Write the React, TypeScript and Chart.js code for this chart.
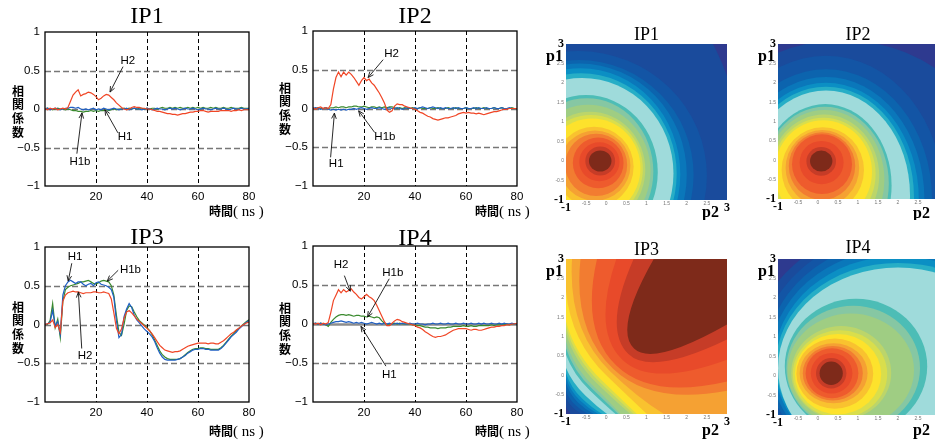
import { useEffect, useRef } from "react";
import { Chart, registerables } from "chart.js";

Chart.register(...registerables);
Chart.defaults.font.family = '"Liberation Sans", Arial, sans-serif';

// ---------- line-chart data (time in ns, correlation coefficient) ----------
const TIME_NS = [
  0, 1, 2, 3, 4, 5, 6, 7, 8, 9, 10, 11, 12, 13, 14, 15, 16, 17, 18, 19, 20, 21, 22, 23, 24, 25, 26, 27, 28, 29, 30, 31, 32, 33, 34, 35, 36, 37, 38, 39, 40,
  41, 42, 43, 44, 45, 46, 47, 48, 49, 50, 51, 52, 53, 54, 55, 56, 57, 58, 59, 60, 61, 62, 63, 64, 65, 66, 67, 68, 69, 70, 71, 72, 73, 74, 75, 76, 77, 78, 79, 80,
];
const X_TICKS = [20, 40, 60, 80];
const Y_TICKS = [1, 0.5, 0, -0.5, -1];

const IP1_H2 = [
  0.01, -0.01, 0.01, 0.0, 0.01, -0.01, 0.0, 0.01, 0.0, 0.02,
  0.1, 0.18, 0.22, 0.25, 0.17, 0.19, 0.2, 0.22, 0.21, 0.19,
  0.16, 0.12, 0.14, 0.17, 0.19, 0.18, 0.15, 0.12, 0.08, 0.05,
  0.02, 0.0, -0.01, 0.0, 0.02, 0.03, 0.02, 0.02, 0.01, 0.01,
  0.0, 0.0, -0.01, -0.02, -0.03, -0.03, -0.04, -0.05, -0.06, -0.06,
  -0.07, -0.07, -0.08, -0.07, -0.06, -0.06, -0.05, -0.04, -0.04, -0.03,
  -0.03, -0.02, -0.02, -0.03, -0.04, -0.03, -0.03, -0.03, -0.03, -0.02,
  -0.02, -0.02, -0.02, -0.03, -0.02, -0.02, -0.01, -0.02, -0.01, -0.01,
  -0.01,
];
const IP1_H1 = [
  0.0, 0.01, -0.01, 0.0, 0.01, 0.0, -0.01, 0.0, 0.01, 0.01,
  0.02, 0.02, 0.01, 0.02, 0.0, -0.01, 0.0, -0.01, 0.0, 0.01,
  -0.01, 0.0, -0.01, 0.01, 0.0, -0.01, 0.0, 0.01, 0.0, -0.01,
  0.0, 0.0, 0.01, -0.01, 0.0, 0.01, 0.0, 0.0, -0.01, 0.0,
  0.01, 0.0, -0.01, 0.0, 0.01, 0.0, 0.0, -0.01, 0.0, 0.01,
  0.0, 0.01, 0.0, -0.01, 0.0, 0.01, 0.0, 0.0, 0.01, 0.0,
  -0.01, 0.0, 0.01, 0.0, 0.0, -0.01, 0.0, 0.01, 0.0, 0.0,
  0.01, 0.0, -0.01, 0.0, 0.01, 0.0, 0.0, 0.01, 0.0, 0.0,
  0.01,
];
const IP1_H1B = [
  0.0, 0.01, 0.0, -0.01, 0.0, 0.01, 0.0, 0.0, -0.01, 0.0,
  -0.01, -0.02, -0.02, -0.03, -0.03, -0.04, -0.03, -0.03, -0.02, -0.03,
  -0.02, -0.03, -0.02, -0.02, -0.01, -0.02, -0.01, 0.0, -0.01, 0.0,
  0.0, 0.01, 0.0, 0.01, 0.0, 0.01, 0.0, 0.01, 0.01, 0.0,
  0.01, 0.0, 0.01, 0.01, 0.0, 0.01, 0.02, 0.01, 0.01, 0.02,
  0.01, 0.02, 0.01, 0.02, 0.01, 0.01, 0.02, 0.01, 0.02, 0.01,
  0.02, 0.01, 0.02, 0.01, 0.01, 0.02, 0.01, 0.02, 0.01, 0.01,
  0.02, 0.01, 0.01, 0.02, 0.01, 0.01, 0.01, 0.02, 0.01, 0.01,
  0.01,
];

const IP2_H2 = [
  0.01, -0.01, 0.01, 0.02, 0.0, 0.01, 0.0, 0.05, 0.25, 0.4,
  0.47, 0.41, 0.47, 0.43, 0.47, 0.44, 0.4, 0.35, 0.3, 0.36,
  0.4, 0.36, 0.38, 0.33, 0.3, 0.25, 0.2, 0.14, 0.07, -0.02,
  -0.05, -0.03, 0.03, 0.06, 0.05, 0.05, 0.03, 0.02, 0.01, 0.0,
  -0.01, -0.03, -0.05, -0.06, -0.08, -0.1, -0.11, -0.13, -0.14, -0.15,
  -0.14, -0.13, -0.12, -0.12, -0.11, -0.1, -0.09, -0.07, -0.06, -0.05,
  -0.06, -0.05, -0.06, -0.06, -0.07, -0.06, -0.07, -0.08, -0.07, -0.06,
  -0.05, -0.04, -0.04, -0.03, -0.02, -0.01, -0.01, 0.0, 0.0, 0.0,
  0.0,
];
const IP2_H1 = [
  0.0, 0.01, 0.0, -0.01, 0.0, 0.01, -0.01, -0.02, -0.01, -0.02,
  -0.01, -0.02, -0.01, -0.02, -0.01, -0.01, 0.0, -0.01, 0.0, 0.01,
  0.0, -0.01, 0.0, 0.01, 0.0, 0.0, 0.01, 0.0, -0.01, 0.0,
  0.01, 0.0, 0.0, 0.01, 0.0, -0.01, 0.0, 0.01, 0.0, 0.0,
  0.01, 0.0, 0.01, 0.02, 0.01, 0.0, 0.01, 0.02, 0.01, 0.0,
  0.01, 0.0, 0.01, 0.0, 0.0, 0.01, 0.0, 0.01, 0.0, 0.0,
  0.01, 0.0, 0.0, 0.01, 0.0, 0.01, 0.0, 0.0, 0.01, 0.0,
  0.0, 0.01, 0.0, 0.0, 0.01, 0.0, 0.0, 0.01, 0.0, 0.0,
  0.0,
];
const IP2_H1B = [
  0.0, 0.0, 0.01, 0.0, 0.0, 0.01, 0.0, 0.01, 0.01, 0.02,
  0.01, 0.02, 0.02, 0.01, 0.02, 0.02, 0.03, 0.03, 0.02, 0.02,
  0.03, 0.02, 0.01, 0.02, 0.02, 0.01, 0.02, 0.01, 0.02, 0.01,
  0.02, 0.02, 0.01, 0.0, 0.01, 0.0, 0.01, 0.0, 0.0, 0.01,
  0.0, 0.0, 0.01, 0.0, 0.0, 0.0, 0.01, 0.0, 0.0, 0.01,
  0.0, 0.0, 0.0, 0.01, 0.0, 0.0, 0.01, 0.0, 0.0, 0.0,
  0.01, 0.0, 0.0, 0.0, 0.01, 0.0, 0.0, 0.01, 0.0, 0.0,
  0.0, 0.01, 0.0, 0.0, 0.01, 0.0, 0.0, 0.0, 0.01, 0.0,
  0.0,
];

const IP3_H1 = [
  0.0, 0.01, 0.03, 0.18, -0.02, 0.04, -0.13, 0.38, 0.5, 0.55,
  0.57, 0.55, 0.53, 0.55, 0.55, 0.52, 0.5, 0.52, 0.53, 0.5,
  0.54, 0.55, 0.52, 0.51, 0.5, 0.48, 0.45, 0.35, 0.05, -0.17,
  -0.13, 0.1, 0.2, 0.27, 0.22, 0.12, 0.06, 0.02, -0.02, -0.06,
  -0.09, -0.12, -0.16, -0.22, -0.3, -0.37, -0.42, -0.45, -0.46, -0.46,
  -0.46, -0.46, -0.45, -0.44, -0.42, -0.4, -0.37, -0.35, -0.33, -0.32,
  -0.32, -0.31, -0.31, -0.32, -0.32, -0.33, -0.33, -0.33, -0.33, -0.31,
  -0.28, -0.24, -0.2, -0.16, -0.13, -0.1, -0.06, -0.03, 0.0, 0.03,
  0.05,
];
const IP3_H1B = [
  0.0, 0.0, 0.05, 0.27, -0.04, 0.07, -0.17, 0.3, 0.45, 0.48,
  0.5, 0.51, 0.52, 0.53, 0.55, 0.55, 0.56, 0.57, 0.55, 0.53,
  0.52, 0.54, 0.56, 0.57, 0.56, 0.55, 0.5, 0.38, 0.12, -0.1,
  -0.14, 0.0, 0.18, 0.24, 0.23, 0.16, 0.1, 0.05, 0.02, -0.01,
  -0.04, -0.08, -0.13, -0.2, -0.27, -0.34, -0.39, -0.42, -0.44, -0.45,
  -0.45, -0.45, -0.45, -0.44, -0.42, -0.39, -0.36, -0.34, -0.32, -0.31,
  -0.31, -0.3, -0.3, -0.31, -0.31, -0.32, -0.32, -0.32, -0.32, -0.3,
  -0.27, -0.23, -0.19, -0.15, -0.12, -0.08, -0.05, -0.02, 0.01, 0.04,
  0.06,
];
const IP3_H2 = [
  0.0, 0.01, 0.02, 0.06, -0.04, 0.0, -0.1, 0.3, 0.38, 0.41,
  0.42, 0.43, 0.42, 0.42, 0.41, 0.4, 0.41, 0.41, 0.41, 0.42,
  0.42, 0.41, 0.41, 0.42, 0.41, 0.4, 0.33, 0.15, -0.05, -0.12,
  -0.06, 0.08, 0.16, 0.18, 0.15, 0.11, 0.07, 0.04, 0.01, -0.02,
  -0.05, -0.08, -0.12, -0.17, -0.22, -0.27, -0.3, -0.33, -0.34, -0.35,
  -0.36, -0.35, -0.35, -0.34, -0.32, -0.3, -0.28, -0.27, -0.26, -0.25,
  -0.24, -0.24, -0.24, -0.24, -0.25, -0.24, -0.24, -0.25, -0.25, -0.23,
  -0.21, -0.18, -0.15, -0.12, -0.1, -0.07, -0.05, -0.02, 0.0, 0.02,
  0.03,
];

const IP4_H2 = [
  0.01, 0.0, 0.01, -0.01, 0.01, 0.0, 0.02, 0.15, 0.3, 0.37,
  0.44, 0.4, 0.44, 0.41, 0.43, 0.45, 0.41, 0.38, 0.34, 0.32,
  0.35, 0.38, 0.35, 0.33, 0.3, 0.24, 0.17, 0.1, 0.03, -0.02,
  -0.02, 0.01, 0.04, 0.06, 0.05, 0.03, 0.02, 0.01, 0.0, -0.01,
  -0.02, -0.04, -0.05, -0.07, -0.1, -0.12, -0.14, -0.16, -0.17, -0.16,
  -0.16, -0.15, -0.14, -0.12, -0.1, -0.08, -0.07, -0.06, -0.06, -0.06,
  -0.06, -0.07, -0.08, -0.07, -0.07, -0.08, -0.08, -0.07, -0.06, -0.05,
  -0.04, -0.04, -0.03, -0.03, -0.02, -0.02, -0.01, -0.01, 0.0, 0.0,
  0.01,
];
const IP4_H1 = [
  0.0, 0.01, 0.0, 0.01, 0.0, -0.01, 0.0, 0.01, 0.02, 0.03,
  0.03, 0.04, 0.03, 0.02, 0.03, 0.02, 0.01, 0.02, 0.01, 0.02,
  0.01, 0.0, 0.01, 0.02, 0.01, 0.0, 0.01, 0.0, 0.01, 0.0,
  0.01, 0.0, 0.0, 0.01, 0.0, 0.01, 0.0, 0.0, 0.01, 0.0,
  0.0, 0.01, 0.0, 0.0, -0.01, 0.0, 0.0, 0.01, 0.0, 0.0,
  0.01, 0.0, 0.0, 0.01, 0.0, 0.0, 0.01, 0.0, 0.0, 0.01,
  0.0, 0.0, 0.01, 0.0, 0.0, 0.01, 0.0, 0.01, 0.0, 0.0,
  0.01, 0.0, 0.0, 0.01, 0.0, 0.01, 0.0, 0.0, 0.01, 0.0,
  0.0,
];
const IP4_H1B = [
  0.0, 0.01, 0.0, 0.01, 0.0, -0.01, -0.03, 0.02, 0.06, 0.09,
  0.11, 0.12, 0.12, 0.11, 0.12, 0.11, 0.1, 0.11, 0.11, 0.1,
  0.1, 0.09, 0.1, 0.09, 0.08, 0.09, 0.08, 0.04, 0.01, -0.01,
  -0.01, 0.0, 0.01, 0.0, 0.01, 0.0, 0.0, 0.0, 0.0, -0.01,
  -0.01, -0.02, -0.02, -0.03, -0.04, -0.04, -0.05, -0.05, -0.05, -0.06,
  -0.05, -0.05, -0.05, -0.04, -0.04, -0.03, -0.03, -0.03, -0.03, -0.02,
  -0.03, -0.03, -0.02, -0.03, -0.03, -0.02, -0.02, -0.02, -0.02, -0.02,
  -0.01, -0.02, -0.01, -0.01, -0.01, -0.01, 0.0, -0.01, 0.0, 0.0,
  0.0,
];

const SERIES_NAMES = ["H2", "H1", "H1b"];
const SERIES_COLORS = ["#f04626", "#1f5fc4", "#3a8a2e"];

type Arrow = { label: string; tx: number; ty: number; x1: number; y1: number; x2: number; y2: number };

const IP1_ARROWS: Arrow[] = [
  { label: "H2", tx: 32.5, ty: 0.62, x1: 30.6, y1: 0.55, x2: 25.5, y2: 0.22 },
  { label: "H1", tx: 31.4, ty: -0.36, x1: 28.6, y1: -0.31, x2: 23.5, y2: -0.01 },
  { label: "H1b", tx: 13.7, ty: -0.68, x1: 12.5, y1: -0.58, x2: 14.5, y2: -0.05 },
];
const IP2_ARROWS: Arrow[] = [
  { label: "H2", tx: 30.8, ty: 0.7, x1: 27.5, y1: 0.63, x2: 21.6, y2: 0.4 },
  { label: "H1b", tx: 28.2, ty: -0.37, x1: 24.2, y1: -0.31, x2: 17.9, y2: -0.03 },
  { label: "H1", tx: 9.1, ty: -0.71, x1: 6.9, y1: -0.63, x2: 8.4, y2: -0.06 },
];
const IP3_ARROWS: Arrow[] = [
  { label: "H1", tx: 11.8, ty: 0.87, x1: 10.5, y1: 0.79, x2: 9.1, y2: 0.56 },
  { label: "H1b", tx: 33.5, ty: 0.71, x1: 28.7, y1: 0.7, x2: 24.4, y2: 0.56 },
  { label: "H2", tx: 15.7, ty: -0.4, x1: 14.4, y1: -0.31, x2: 13.1, y2: 0.42 },
];
const IP4_ARROWS: Arrow[] = [
  { label: "H2", tx: 11.0, ty: 0.76, x1: 12.3, y1: 0.62, x2: 14.6, y2: 0.42 },
  { label: "H1b", tx: 31.3, ty: 0.66, x1: 29.9, y1: 0.58, x2: 21.4, y2: 0.09 },
  { label: "H1", tx: 29.9, ty: -0.65, x1: 28.6, y1: -0.54, x2: 18.8, y2: -0.03 },
];

// ---------- contour-map data (p1 vs p2) ----------
const P_TICKS = [-1, -0.5, 0, 0.5, 1, 1.5, 2, 2.5, 3];
const LEVEL_COLORS = [
  "#2e3a8f", "#1a4b9c", "#1355a5", "#0c64ae", "#0a77ba", "#0b8fc4", "#27aec6", "#9fdbdb",
  "#4dbdb6", "#86c7a3", "#9fcd83", "#bcd56a", "#d9de4c", "#fde22c", "#f9c22f", "#f5a133",
  "#f27c31", "#ee5b2d", "#e84a2a", "#c63c27", "#7e2a1a",
];

// contour ellipses, level 1 (outermost) .. level 20 (innermost)
const IP1_MAP_CX = [-0.15, -0.7, -0.68, -0.66, -0.64, -0.62, -0.6, -0.5, -0.48, -0.45, -0.4, -0.38, -0.35, -0.3, -0.28, -0.25, -0.2, -0.17, -0.15, -0.15];
const IP1_MAP_CY = [0, -0.38, -0.36, -0.35, -0.34, -0.33, -0.32, -0.28, -0.27, -0.25, -0.22, -0.2, -0.18, -0.15, -0.12, -0.1, -0.05, -0.02, 0, 0];
const IP1_MAP_RX = [3.5, 3.2, 2.85, 2.66, 2.48, 2.37, 2.27, 1.78, 1.65, 1.55, 1.37, 1.29, 1.2, 0.98, 0.88, 0.77, 0.63, 0.5, 0.37, 0.28];
const IP1_MAP_RY = [5.0, 3.2, 2.95, 2.85, 2.72, 2.58, 2.45, 1.97, 1.88, 1.69, 1.48, 1.38, 1.27, 1.03, 0.9, 0.8, 0.65, 0.5, 0.37, 0.27];

const IP2_MAP_CX = [0.6, 0.2, 0.2, 0.2, 0.2, 0.2, 0.2, 0.18, 0.17, 0.16, 0.15, 0.14, 0.13, 0.12, 0.11, 0.1, 0.1, 0.09, 0.08, 0.08];
const IP2_MAP_CY = [-1.2, -1.0, -1.0, -1.0, -1.0, -0.95, -0.9, -0.65, -0.6, -0.5, -0.4, -0.35, -0.3, -0.25, -0.2, -0.15, -0.1, -0.06, -0.03, -0.02];
const IP2_MAP_RX = [4.2, 2.95, 2.65, 2.46, 2.32, 2.2, 2.1, 1.66, 1.6, 1.5, 1.38, 1.3, 1.22, 1.03, 0.92, 0.83, 0.75, 0.55, 0.37, 0.28];
const IP2_MAP_RY = [4.3, 3.7, 3.35, 3.15, 3.0, 2.85, 2.7, 2.1, 1.98, 1.8, 1.58, 1.45, 1.33, 1.1, 0.98, 0.87, 0.77, 0.56, 0.37, 0.27];

const IP4_MAP_CX = [2.0, 2.0, 2.0, 2.0, 2.0, 2.0, 2.0, 0.95, 0.88, 0.82, 0.58, 0.55, 0.5, 0.42, 0.39, 0.37, 0.35, 0.34, 0.33, 0.33];
const IP4_MAP_CY = [0.5, 0.5, 0.45, 0.4, 0.35, 0.3, 0.2, 0.25, 0.2, 0.15, 0.08, 0.05, 0.05, 0.06, 0.07, 0.07, 0.07, 0.07, 0.07, 0.07];
const IP4_MAP_RX = [3.68, 3.45, 3.3, 3.2, 3.1, 3.05, 3.0, 1.78, 1.67, 1.58, 1.25, 1.18, 1.08, 0.96, 0.85, 0.75, 0.66, 0.52, 0.38, 0.29];
const IP4_MAP_RY = [3.32, 3.15, 3.0, 2.85, 2.72, 2.6, 2.58, 1.73, 1.6, 1.45, 1.2, 1.12, 1.03, 0.9, 0.77, 0.7, 0.64, 0.52, 0.39, 0.3];

// IP3 contour boundaries, level 1..20: where each crosses the left/top edge, the diagonal p1 = p2 (tip), and the bottom/right edge
const IP3_START_X = [-1, -1, -1, -1, -1, -1, -1, -1, -1, -1, -1, -1, -1, -1, -0.85, -0.64, -0.23, 0.25, 0.68, 1.18];
const IP3_START_Y = [-0.8, -0.59, -0.4, -0.2, -0.05, 0.06, 0.19, 0.53, 0.7, 0.88, 1.1, 1.25, 1.39, 2.17, 3, 3, 3, 3, 3, 3];
const IP3_TIP = [-0.93, -0.83, -0.77, -0.7, -0.65, -0.6, -0.52, -0.4, -0.35, -0.3, -0.22, -0.17, -0.12, 0.0, 0.1, 0.17, 0.25, 0.4, 0.55, 0.69];
const IP3_END_X = [-0.89, -0.6, -0.45, -0.31, -0.2, -0.1, 0.02, 0.23, 0.3, 0.35, 0.6, 0.68, 0.76, 1.01, 1.43, 3, 3, 3, 3, 3];
const IP3_END_Y = [-1, -1, -1, -1, -1, -1, -1, -1, -1, -1, -1, -1, -1, -1, -1, -0.4, -0.16, 0.4, 0.92, 1.31];

// ---------- helpers ----------
type LineSpec = {
  title: string;
  series: number[][];
  arrows: Arrow[];
  left: number; top: number; width: number; height: number;
  area: [number, number, number, number];
  titleY: number; yTitleX: number; yTitleY: number; xTitleX: number; xTitleY: number;
  solidZero?: boolean;
};

const fmtY = (v: number) => (v < 0 ? "\u2212" + Math.abs(v) : String(v));

function linePlugin(spec: LineSpec) {
  return {
    id: "decor",
    beforeDatasetsDraw(chart: any) {
      const { ctx, chartArea: a, scales } = chart;
      const x = scales.x, y = scales.y;
      ctx.save();
      for (const v of Y_TICKS) {
        if (v === 1 || v === -1) continue;
        const py = Math.round(y.getPixelForValue(v)) + 0.5;
        ctx.beginPath();
        if (v === 0 && spec.solidZero) {
          ctx.setLineDash([]);
          ctx.strokeStyle = "#8c8c8c";
          ctx.lineWidth = 2.4;
        } else {
          ctx.setLineDash([6, 3]);
          ctx.strokeStyle = "#777";
          ctx.lineWidth = 1.5;
        }
        ctx.moveTo(a.left, py);
        ctx.lineTo(a.right, py);
        ctx.stroke();
      }
      ctx.setLineDash([4, 3]);
      ctx.strokeStyle = "#000";
      ctx.lineWidth = 1;
      for (const v of X_TICKS) {
        if (v === 80) continue;
        const px = Math.round(x.getPixelForValue(v)) + 0.5;
        ctx.beginPath();
        ctx.moveTo(px, a.top);
        ctx.lineTo(px, a.bottom);
        ctx.stroke();
      }
      ctx.restore();
    },
    afterDatasetsDraw(chart: any) {
      const { ctx, chartArea: a, scales } = chart;
      const x = scales.x, y = scales.y;
      ctx.save();
      ctx.setLineDash([]);
      ctx.strokeStyle = "#000";
      ctx.lineWidth = 1.3;
      ctx.strokeRect(a.left, a.top, a.right - a.left, a.bottom - a.top);
      ctx.lineWidth = 0.9;
      ctx.strokeStyle = "#111";
      ctx.fillStyle = "#000";
      ctx.font = '11.5px "Liberation Sans", Arial, sans-serif';
      ctx.textAlign = "center";
      ctx.textBaseline = "middle";
      for (const ar of spec.arrows) {
        const X1 = x.getPixelForValue(ar.x1), Y1 = y.getPixelForValue(ar.y1);
        const X2 = x.getPixelForValue(ar.x2), Y2 = y.getPixelForValue(ar.y2);
        ctx.beginPath();
        ctx.moveTo(X1, Y1);
        ctx.lineTo(X2, Y2);
        const ang = Math.atan2(Y2 - Y1, X2 - X1);
        const hl = 6;
        ctx.moveTo(X2 - hl * Math.cos(ang - 0.4), Y2 - hl * Math.sin(ang - 0.4));
        ctx.lineTo(X2, Y2);
        ctx.lineTo(X2 - hl * Math.cos(ang + 0.4), Y2 - hl * Math.sin(ang + 0.4));
        ctx.stroke();
        ctx.fillText(ar.label, x.getPixelForValue(ar.tx), y.getPixelForValue(ar.ty));
      }
      ctx.restore();
    },
    afterDraw(chart: any) {
      const { ctx, chartArea: a } = chart;
      ctx.save();
      ctx.fillStyle = "#000";
      ctx.font = '24px "Liberation Serif", serif';
      ctx.textAlign = "center";
      ctx.textBaseline = "alphabetic";
      ctx.fillText(spec.title, (a.left + a.right) / 2, spec.titleY);
      ctx.font = 'bold 12px "Noto Sans CJK JP", sans-serif';
      ctx.textBaseline = "middle";
      const chars = ["相", "関", "係", "数"];
      chars.forEach((c, i) => ctx.fillText(c, spec.yTitleX, spec.yTitleY + i * 13.8));
      ctx.textAlign = "left";
      ctx.textBaseline = "alphabetic";
      ctx.fillText("時間", spec.xTitleX, spec.xTitleY);
      const w = ctx.measureText("時間").width;
      ctx.font = '15px "Liberation Serif", serif';
      ctx.fillText("( ns )", spec.xTitleX + w, spec.xTitleY);
      ctx.restore();
    },
  };
}

function LineChart({ spec }: { spec: LineSpec }) {
  const ref = useRef<HTMLCanvasElement>(null);
  useEffect(() => {
    const [l, t, r, b] = spec.area;
    const chart = new Chart(ref.current as HTMLCanvasElement, {
      type: "line",
      data: {
        datasets: spec.series.map((s, i) => ({
          label: SERIES_NAMES[i],
          data: TIME_NS.map((tv, k) => ({ x: tv, y: s[k] })),
          borderColor: SERIES_COLORS[i],
          borderWidth: 1.2,
          pointRadius: 0,
          tension: 0,
          fill: false,
        })),
      },
      options: {
        animation: false,
        responsive: false,
        devicePixelRatio: 1,
        layout: { padding: { left: 0, top: t, right: spec.width - r, bottom: 0 } },
        plugins: { legend: { display: false }, tooltip: { enabled: false }, title: { display: false } },
        scales: {
          x: {
            type: "linear",
            min: 0,
            max: 80,
            afterFit: (s: any) => { s.height = spec.height - b; },
            afterBuildTicks: (s: any) => { s.ticks = X_TICKS.map((v) => ({ value: v })); },
            grid: { display: false, drawTicks: false },
            border: { display: false },
            ticks: { padding: 4, color: "#000", font: { size: 11.5 }, maxRotation: 0, autoSkip: false },
          },
          y: {
            type: "linear",
            min: -1,
            max: 1,
            afterFit: (s: any) => { s.width = l; },
            afterBuildTicks: (s: any) => { s.ticks = Y_TICKS.map((v) => ({ value: v })); },
            grid: { display: false, drawTicks: false },
            border: { display: false },
            ticks: { padding: 5, color: "#000", font: { size: 11.5 }, autoSkip: false, callback: (v: any) => fmtY(Number(v)) },
          },
        },
      } as any,
      plugins: [linePlugin(spec)],
    });
    return () => chart.destroy();
  }, []);
  return (
    <div style={{ position: "absolute", left: spec.left, top: spec.top, width: spec.width, height: spec.height }}>
      <canvas ref={ref} width={spec.width} height={spec.height} style={{ width: spec.width, height: spec.height }} />
    </div>
  );
}

type Bands = { sx: number[]; sy: number[]; tip: number[]; ex: number[]; ey: number[] };

type MapSpec = {
  title: string;
  left: number; top: number; width: number; height: number;
  area: [number, number, number, number];
  titleY: number; p2Y: number;
  ellipses?: { cx: number[]; cy: number[]; rx: number[]; ry: number[] };
  bands?: Bands;
};

function drawEllipses(ctx: any, chart: any, e: NonNullable<MapSpec["ellipses"]>) {
  const { chartArea: a, scales } = chart;
  const x = scales.x, y = scales.y;
  ctx.fillStyle = LEVEL_COLORS[0];
  ctx.fillRect(a.left, a.top, a.right - a.left, a.bottom - a.top);
  for (let i = 0; i < e.cx.length; i++) {
    const px = x.getPixelForValue(e.cx[i]);
    const py = y.getPixelForValue(e.cy[i]);
    const prx = Math.abs(x.getPixelForValue(e.cx[i] + e.rx[i]) - px);
    const pry = Math.abs(y.getPixelForValue(e.cy[i] + e.ry[i]) - py);
    ctx.beginPath();
    ctx.ellipse(px, py, prx, pry, 0, 0, Math.PI * 2);
    ctx.fillStyle = LEVEL_COLORS[Math.min(i + 1, LEVEL_COLORS.length - 1)];
    ctx.fill();
  }
}

function drawBands(ctx: any, chart: any, bd: Bands) {
  const { chartArea: a, scales } = chart;
  const x = scales.x, y = scales.y;
  const X = (v: number) => x.getPixelForValue(v);
  const Y = (v: number) => y.getPixelForValue(v);
  const K = 0.55;
  ctx.fillStyle = LEVEL_COLORS[0];
  ctx.fillRect(a.left, a.top, a.right - a.left, a.bottom - a.top);
  for (let i = 0; i < bd.tip.length; i++) {
    const s = [bd.sx[i], bd.sy[i]];
    const e = [bd.ex[i], bd.ey[i]];
    const t = bd.tip[i];
    const p1 = ((s[1] - t) - (s[0] - t)) / 2;
    const p2 = ((e[1] - t) - (e[0] - t)) / 2;
    const c1 = [t - K * p1, t + K * p1];
    const c2 = [t - K * p2, t + K * p2];
    ctx.beginPath();
    ctx.moveTo(X(s[0]), Y(s[1]));
    ctx.quadraticCurveTo(X(c1[0]), Y(c1[1]), X(t), Y(t));
    ctx.quadraticCurveTo(X(c2[0]), Y(c2[1]), X(e[0]), Y(e[1]));
    if (e[1] <= -1) {
      ctx.lineTo(X(e[0]), Y(-3));
      ctx.lineTo(X(6), Y(-3));
    } else {
      ctx.lineTo(X(6), Y(e[1]));
    }
    ctx.lineTo(X(6), Y(6));
    if (s[0] <= -1) {
      ctx.lineTo(X(-3), Y(6));
      ctx.lineTo(X(-3), Y(s[1]));
    } else {
      ctx.lineTo(X(s[0]), Y(6));
    }
    ctx.closePath();
    ctx.fillStyle = LEVEL_COLORS[Math.min(i + 1, LEVEL_COLORS.length - 1)];
    ctx.fill();
  }
}

const isEdge = (v: number) => v === -1 || v === 3;

function MapChart({ spec }: { spec: MapSpec }) {
  const ref = useRef<HTMLCanvasElement>(null);
  useEffect(() => {
    const [l, t, r, b] = spec.area;
    const tickFont = (c: any) =>
      c.tick && isEdge(c.tick.value)
        ? { family: '"Liberation Serif", serif', size: 12, weight: "bold" }
        : { family: '"Liberation Sans", Arial, sans-serif', size: 5 };
    const tickColor = (c: any) => (c.tick && isEdge(c.tick.value) ? "#000" : "#777");
    const tickText = (v: any) => String(Number(v));
    const plugin = {
      id: "contour",
      beforeDatasetsDraw(chart: any) {
        const { ctx, chartArea: a } = chart;
        ctx.save();
        ctx.beginPath();
        ctx.rect(a.left, a.top, a.right - a.left, a.bottom - a.top);
        ctx.clip();
        if (spec.ellipses) drawEllipses(ctx, chart, spec.ellipses);
        if (spec.bands) drawBands(ctx, chart, spec.bands);
        ctx.restore();
      },
      afterDraw(chart: any) {
        const { ctx, chartArea: a } = chart;
        ctx.save();
        ctx.fillStyle = "#000";
        ctx.font = '18px "Liberation Serif", serif';
        ctx.textAlign = "center";
        ctx.textBaseline = "alphabetic";
        ctx.fillText(spec.title, (a.left + a.right) / 2, spec.titleY);
        ctx.font = 'bold 16px "Liberation Serif", serif';
        ctx.textAlign = "right";
        ctx.fillText("p1", a.left - 3, a.top + 17);
        ctx.fillText("p2", a.right - 8, spec.p2Y);
        ctx.restore();
      },
    };
    const chart = new Chart(ref.current as HTMLCanvasElement, {
      type: "scatter",
      data: { datasets: [{ data: [] }] },
      options: {
        animation: false,
        responsive: false,
        devicePixelRatio: 1,
        layout: { padding: { left: 0, top: t, right: spec.width - r, bottom: 0 } },
        plugins: { legend: { display: false }, tooltip: { enabled: false } },
        scales: {
          x: {
            type: "linear",
            min: -1,
            max: 3,
            afterFit: (s: any) => { s.height = spec.height - b; },
            afterBuildTicks: (s: any) => { s.ticks = P_TICKS.map((v) => ({ value: v })); },
            grid: { display: false, drawTicks: false },
            border: { display: false },
            ticks: { padding: 1, autoSkip: false, maxRotation: 0, font: tickFont, color: tickColor, callback: tickText },
          },
          y: {
            type: "linear",
            min: -1,
            max: 3,
            afterFit: (s: any) => { s.width = l; },
            afterBuildTicks: (s: any) => { s.ticks = P_TICKS.map((v) => ({ value: v })); },
            grid: { display: false, drawTicks: false },
            border: { display: false },
            ticks: { padding: 2, autoSkip: false, font: tickFont, color: tickColor, callback: tickText },
          },
        },
      } as any,
      plugins: [plugin],
    });
    return () => chart.destroy();
  }, []);
  return (
    <div style={{ position: "absolute", left: spec.left, top: spec.top, width: spec.width, height: spec.height }}>
      <canvas ref={ref} width={spec.width} height={spec.height} style={{ width: spec.width, height: spec.height }} />
    </div>
  );
}

const LINE_SPECS: LineSpec[] = [
  { title: "IP1", series: [IP1_H2, IP1_H1, IP1_H1B], arrows: IP1_ARROWS, left: 0, top: 0, width: 270, height: 220, area: [45, 32, 249, 186], titleY: 23, yTitleX: 18, yTitleY: 91, xTitleX: 209, xTitleY: 216 },
  { title: "IP2", series: [IP2_H2, IP2_H1, IP2_H1B], arrows: IP2_ARROWS, left: 270, top: 0, width: 265, height: 220, area: [43, 31, 247, 186], titleY: 23, yTitleX: 15, yTitleY: 88, xTitleX: 205, xTitleY: 216 },
  { title: "IP3", series: [IP3_H2, IP3_H1, IP3_H1B], arrows: IP3_ARROWS, left: 0, top: 220, width: 270, height: 221, area: [45, 27, 249, 182], titleY: 24, yTitleX: 18, yTitleY: 87, xTitleX: 209, xTitleY: 216 },
  { title: "IP4", series: [IP4_H2, IP4_H1, IP4_H1B], arrows: IP4_ARROWS, left: 270, top: 220, width: 265, height: 221, area: [43, 26, 247, 182], titleY: 25, yTitleX: 15, yTitleY: 88, xTitleX: 205, xTitleY: 216, solidZero: true },
];

const MAP_SPECS: MapSpec[] = [
  { title: "IP1", left: 530, top: 0, width: 205, height: 220, area: [36, 44, 197, 200], titleY: 40, p2Y: 217, ellipses: { cx: IP1_MAP_CX, cy: IP1_MAP_CY, rx: IP1_MAP_RX, ry: IP1_MAP_RY } },
  { title: "IP2", left: 735, top: 0, width: 210, height: 220, area: [43, 44, 203, 199], titleY: 40, p2Y: 218, ellipses: { cx: IP2_MAP_CX, cy: IP2_MAP_CY, rx: IP2_MAP_RX, ry: IP2_MAP_RY } },
  { title: "IP3", left: 530, top: 220, width: 205, height: 221, area: [36, 39, 197, 194], titleY: 35, p2Y: 215, bands: { sx: IP3_START_X, sy: IP3_START_Y, tip: IP3_TIP, ex: IP3_END_X, ey: IP3_END_Y } },
  { title: "IP4", left: 735, top: 220, width: 210, height: 221, area: [43, 39, 203, 195], titleY: 33, p2Y: 215, ellipses: { cx: IP4_MAP_CX, cy: IP4_MAP_CY, rx: IP4_MAP_RX, ry: IP4_MAP_RY } },
];

export default function App() {
  return (
    <div style={{ position: "absolute", left: 0, top: 0, width: 935, height: 441, overflow: "hidden", background: "#fff" }}>
      {LINE_SPECS.map((s) => (
        <LineChart key={"l" + s.title} spec={s} />
      ))}
      {MAP_SPECS.map((s) => (
        <MapChart key={"m" + s.title} spec={s} />
      ))}
    </div>
  );
}
